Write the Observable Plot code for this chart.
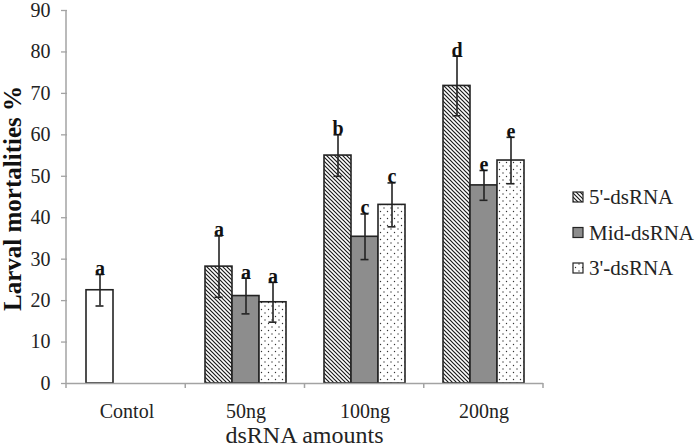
<!DOCTYPE html>
<html>
<head>
<meta charset="utf-8">
<script src="https://cdn.jsdelivr.net/npm/d3@7"></script>
<script src="https://cdn.jsdelivr.net/npm/@observablehq/plot@0.6"></script>
<style>
  html, body { margin: 0; padding: 0; background: #fff; }
  #chart { width: 700px; height: 448px; overflow: hidden; }
  #chart svg, #chart svg text { font-family: "Liberation Serif", "Times New Roman", "DejaVu Serif", serif !important; }
</style>
</head>
<body>
<div id="chart"></div>
<script>
// ---- data ----
const categories = ["Contol", "50ng", "100ng", "200ng"];
const series = ["5'-dsRNA", "Mid-dsRNA", "3'-dsRNA"];
const yTicks = [0, 10, 20, 30, 40, 50, 60, 70, 80, 90];

const controlValue = 22.5, controlErr = 3.8, controlLetter = "a";

const values5 = [28.2, 55.0, 71.8];
const err5 = [7.4, 5.0, 7.2];
const letters5 = ["a", "b", "d"];

const valuesMid = [21.1, 35.4, 47.8];
const errMid = [4.3, 5.5, 3.6];
const lettersMid = ["a", "c", "e"];

const values3 = [19.6, 43.1, 53.8];
const err3 = [4.8, 5.3, 5.6];
const letters3 = ["a", "c", "e"];

const xTitle = "dsRNA amounts";
const yTitle = "Larval mortalities %";

// ---- build table ----
const rows = [{cat: categories[0], series: series[0], value: controlValue, err: controlErr, letter: controlLetter, control: true}];
const treat = categories.slice(1);
[[values5, err5, letters5], [valuesMid, errMid, lettersMid], [values3, err3, letters3]].forEach(([v, e, l], si) => {
  treat.forEach((c, i) => rows.push({cat: c, series: series[si], value: v[i], err: e[i], letter: l[i], control: false}));
});

const fills = {"5'-dsRNA": "url(#hatch)", "Mid-dsRNA": "#8d8d8d", "3'-dsRNA": "url(#dots)"};
const fillOf = d => d.control ? "#ffffff" : fills[d.series];

const ink = "#232323";
const axisGray = "#a3a3a3";
const font = "Liberation Serif, Times New Roman, DejaVu Serif, serif";

const plot = Plot.plot({
  width: 700,
  height: 448,
  marginLeft: 66,
  marginRight: 157,
  marginTop: 10,
  marginBottom: 65,
  style: {fontFamily: font, fontSize: "20px", color: ink, background: "#fff", overflow: "visible"},
  fx: {domain: categories, padding: 0, axis: null},
  x: {domain: series, paddingInner: 0, paddingOuter: 0.68, axis: null},
  y: {domain: [0, 90], axis: null},
  color: {type: "identity"},
  marks: [
    Plot.axisY(yTicks, {tickSize: 6, tickPadding: 11, stroke: axisGray, strokeWidth: 1.3, fill: ink, fontSize: 20, label: null}),
    Plot.axisFx({anchor: "bottom", tickSize: 0, tickPadding: 20, fontSize: 20, fill: ink, label: null}),
    Plot.barY(rows, {fx: "cat", x: "series", y: "value", fill: fillOf, stroke: ink, strokeWidth: 1.6}),
    Plot.ruleY([0], {stroke: axisGray, strokeWidth: 1.5}),
    Plot.ruleX(rows, {fx: "cat", x: "series", y1: d => d.value - d.err, y2: d => d.value + d.err, stroke: ink, strokeWidth: 1.6}),
    Plot.tickY(rows, {fx: "cat", x: "series", y: d => d.value - d.err, insetLeft: 9.5, insetRight: 9.5, stroke: ink, strokeWidth: 1.6}),
    Plot.tickY(rows, {fx: "cat", x: "series", y: d => d.value + d.err, insetLeft: 9.5, insetRight: 9.5, stroke: ink, strokeWidth: 1.6}),
    Plot.text(rows, {fx: "cat", x: "series", y: d => d.value + d.err, text: "letter", lineAnchor: "bottom", dy: 0.5, fontWeight: "bold", fontSize: 20, fill: "#111"})
  ]
});

// ---- patterns, axis lines, titles, legend ----
const svg = d3.select(plot);
const defs = svg.insert("defs", ":first-child");
const hatch = defs.append("pattern").attr("id", "hatch").attr("patternUnits", "userSpaceOnUse").attr("width", 4).attr("height", 4);
hatch.append("rect").attr("width", 4).attr("height", 4).attr("fill", "#fff");
hatch.append("path").attr("d", "M-1,-1L5,5M-1,3L1,5M3,-1L5,1").attr("stroke", "#1a1a1a").attr("stroke-width", 1.2);
const dots = defs.append("pattern").attr("id", "dots").attr("patternUnits", "userSpaceOnUse").attr("width", 7).attr("height", 7);
dots.append("rect").attr("width", 7).attr("height", 7).attr("fill", "#fff");
dots.append("circle").attr("cx", 1.5).attr("cy", 1.5).attr("r", 0.7).attr("fill", "#333");
dots.append("circle").attr("cx", 5).attr("cy", 5).attr("r", 0.7).attr("fill", "#333");

const ys = plot.scale("y");
let fxs = null;
try { fxs = plot.scale("fx"); } catch (e) { fxs = null; }
const x0 = fxs ? fxs.range[0] : 66;
const x1 = fxs ? fxs.range[1] : 543;
const bw = (x1 - x0) / categories.length;
const yZero = ys.apply(0), yTop = ys.apply(90);

const deco = svg.append("g").attr("stroke", axisGray).attr("stroke-width", 1.5);
deco.append("line").attr("x1", x0).attr("x2", x0).attr("y1", yZero).attr("y2", yTop);
for (let i = 0; i <= categories.length; i++) {
  const xx = x0 + i * bw;
  deco.append("line").attr("x1", xx).attr("x2", xx).attr("y1", yZero).attr("y2", yZero + 5);
}

svg.append("text")
  .attr("x", (x0 + x1) / 2).attr("y", 443)
  .attr("text-anchor", "middle").attr("font-size", 24).attr("fill", ink)
  .attr("font-family", font).text(xTitle);

svg.append("text")
  .attr("transform", `translate(21,${(yZero + yTop) / 2 + 2}) rotate(-90)`)
  .attr("text-anchor", "middle").attr("font-size", 25).attr("font-weight", "bold").attr("fill", "#111")
  .attr("font-family", font).text(yTitle);

const legend = svg.append("g").attr("font-family", font).attr("font-size", 21).attr("fill", ink).attr("text-anchor", "start");
series.forEach((s, i) => {
  const cy = 197 + i * 35.5;
  legend.append("rect").attr("x", 573).attr("y", cy - 5).attr("width", 10).attr("height", 10)
    .attr("fill", fills[s]).attr("stroke", ink).attr("stroke-width", 1.2);
  legend.append("text").attr("x", 589).attr("y", cy).attr("dy", "0.35em").attr("text-anchor", "start").text(s);
});

document.getElementById("chart").appendChild(plot);
</script>
</body>
</html>
